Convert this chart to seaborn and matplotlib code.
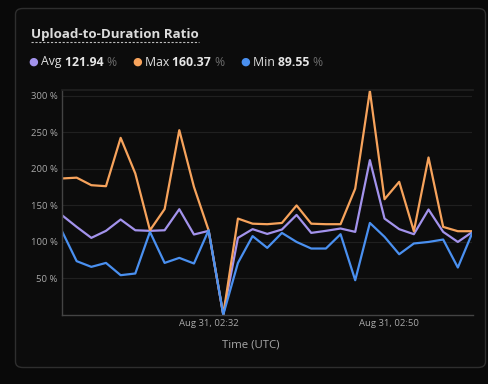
import pandas as pd
import seaborn as sns
import matplotlib.pyplot as plt
import matplotlib.dates as mdates
from matplotlib.patches import FancyBboxPatch
from matplotlib.lines import Line2D

# timestamps (UTC), one sample roughly every 88 s
times = pd.date_range('2024-08-31 02:17:18', periods=29, freq='88s')

avg_vals = [136.6, 120.6, 105.6, 115.2, 130.7, 116.0, 115.2, 116.0, 144.8, 110.2,
            115.2, 0.5, 105.6, 117.5, 111.0, 117.0, 137.0, 112.4, 115.2, 118.4,
            113.8, 212.0, 132.0, 117.5, 110.6, 144.4, 113.8, 100.0, 113.8]
max_vals = [186.9, 188.0, 177.7, 176.3, 242.5, 193.7, 116.0, 145.0, 253.0, 175.4,
            116.0, 0.5, 132.0, 125.0, 124.3, 126.0, 150.0, 125.0, 124.3, 124.3,
            173.0, 306.8, 158.5, 182.3, 114.7, 215.6, 120.6, 114.7, 114.7]
min_vals = [114.7, 73.7, 65.9, 71.3, 54.5, 56.8, 113.8, 71.3, 78.2, 70.5,
            116.0, 0.5, 71.3, 108.0, 91.9, 112.4, 100.0, 91.0, 91.0, 110.6,
            47.6, 126.0, 107.0, 83.2, 97.9, 100.0, 103.3, 65.0, 113.0]

series_names = ['Avg', 'Max', 'Min']
summary = ['121.94', '160.37', '89.55']
colors = ['#a393ec', '#f7a35c', '#4a90f0']
ytick_vals = [50, 100, 150, 200, 250, 300]
xtick_times = ['2024-08-31 02:32', '2024-08-31 02:50']

df = pd.DataFrame({'time': list(times) * 3,
                   'value': avg_vals + max_vals + min_vals,
                   'series': [n for n in series_names for _ in range(len(times))]})

sns.set_theme(style='dark')
plt.rcParams['font.family'] = ['Open Sans', 'DejaVu Sans']

W, H = 489, 384
fig = plt.figure(figsize=(W / 100, H / 100), dpi=100, facecolor='#090909')

# card
card = FancyBboxPatch((15.5 / W, (H - 367.5) / H), 470 / W, 359 / H,
                      boxstyle='round,pad=0,rounding_size=0.015',
                      transform=fig.transFigure, facecolor='#0c0c0c',
                      edgecolor='#2e2e2e', linewidth=1.0, zorder=-5)
fig.patches.append(card)

ax = fig.add_axes([62 / W, (H - 315) / H, (472.5 - 62) / W, 225 / H])
ax.set_zorder(2)
ax.set_facecolor('#0c0c0c')

sns.lineplot(data=df, x='time', y='value', hue='series', hue_order=series_names,
             palette=colors, linewidth=1.6, legend=False, ax=ax)

ax.set_xlim(times[0], times[-1])
ax.set_ylim(0, 308)
ax.set_yticks(ytick_vals)
ax.set_yticklabels([f'{v} %' for v in ytick_vals])
ax.set_xticks(pd.to_datetime(xtick_times))
ax.xaxis.set_major_formatter(mdates.DateFormatter('%b %d, %H:%M'))
ax.tick_params(colors='#a8a8a8', labelsize=6.8, length=0, pad=3)
ax.grid(axis='y', color='#202020', linewidth=0.8)
ax.grid(axis='x', visible=False)
ax.set_xlabel('')
ax.set_ylabel('')
for side in ['left', 'bottom']:
    ax.spines[side].set_color('#444444')
    ax.spines[side].set_linewidth(1)
ax.spines['top'].set_color('#202020')
ax.spines['right'].set_visible(False)

fig.text(251 / W, 1 - 345 / H, 'Time (UTC)', color='#a8a8a8', fontsize=8.2,
         ha='center', va='center')

# title with dashed underline
title = fig.text(31 / W, 1 - 38 / H, 'Upload-to-Duration Ratio', color='#dcdcdc',
                 fontsize=9.6, fontweight='bold', ha='left', va='baseline')
renderer = fig.canvas.get_renderer()
tb = title.get_window_extent(renderer)
fig.lines.append(Line2D([tb.x0 / W, tb.x1 / W], [1 - 42 / H, 1 - 42 / H],
                        transform=fig.transFigure, color='#bdbdbd',
                        linewidth=0.8, linestyle=(0, (2, 1.5))))

# summary legend
starts = [33, 137, 245]
for name, val, col, x0 in zip(series_names, summary, colors, starts):
    fig.text(x0 / W, 1 - 62 / H, '\u25cf', color=col, fontsize=8,
             ha='center', va='center', family=['DejaVu Sans'])
    x = (x0 + 8) / W
    for txt, c, w in [(name + ' ', '#e0e0e0', 'medium'), (val + ' ', '#e6e6e6', 'bold'),
                      ('%', '#6a6a6a', 'normal')]:
        t = fig.text(x, 1 - 62 / H, txt, color=c, fontsize=8.8, fontweight=w,
                     ha='left', va='center')
        bb = t.get_window_extent(renderer)
        x = bb.x1 / W

fig.savefig('out.png', dpi=100, facecolor=fig.get_facecolor())
